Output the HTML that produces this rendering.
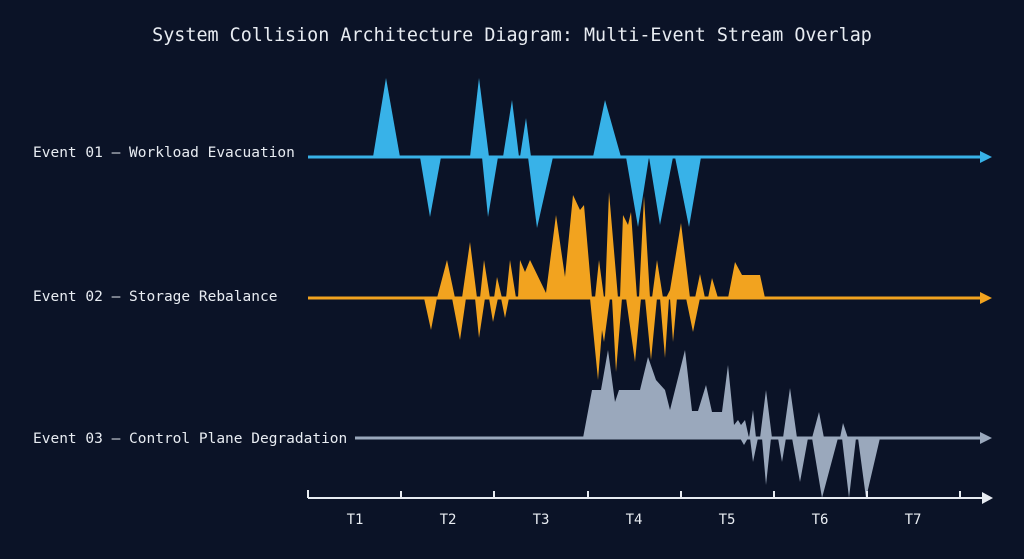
<!DOCTYPE html>
<html><head><style>
html,body{margin:0;padding:0;background:#0b1327;}
svg{display:block}
text{font-family:"DejaVu Sans Mono","Liberation Mono",monospace;fill:#e8ecf2}
</style></head><body>
<svg width="1024" height="559" viewBox="0 0 1024 559">
<rect width="1024" height="559" fill="#0b1327"/>
<text x="512" y="41" font-size="18.4" text-anchor="middle">System Collision Architecture Diagram: Multi-Event Stream Overlap</text>
<text x="33" y="157" font-size="14.5">Event 01 — Workload Evacuation</text>
<text x="33" y="301" font-size="14.5">Event 02 — Storage Rebalance</text>
<text x="33" y="443" font-size="14.5">Event 03 — Control Plane Degradation</text>

<g fill="#38b2e8">
<polygon points="373,157 386,78 400,157"/>
<polygon points="420,157 430,217 441,157"/>
<polygon points="470,157 479,78 489,157"/>
<polygon points="482,157 488,217 498,157"/>
<polygon points="503,157 512,100 519,157"/>
<polygon points="520,157 526,118 531,157"/>
<polygon points="528,157 537,228 553,157"/>
<polygon points="593,157 605,100 621,157"/>
<polygon points="626,157 638,227 649,157"/>
<polygon points="649,157 660,225 673,157"/>
<polygon points="675,157 689,227 701,157"/>
</g>
<line x1="308" y1="157" x2="982" y2="157" stroke="#38b2e8" stroke-width="3"/>
<polygon points="980,151 992,157 980,163" fill="#38b2e8"/>

<g fill="#f2a31f">
<polygon points="437,298 447,260 455,298 462,298 470,242 477,298 480,298 484,260 490,298 494,298 497,277 502,298 506,298 510,260 516,298 518,298 520,260 525,272 530,260 546,293 556,215 565,277 573,195 580,210 584,205 592,298 595,298 599,260 604,298 605,298 609,192 618,298 620,298 623,215 628,225 631,212 637,298 639,298 644,196 650,298 652,298 657,260 663,298 666,298 670,290 681,223 690,298 695,298 700,274 705,298 708,298 712,278 718,298 728,298 735,262 742,275 760,275 765,298"/>
<polygon points="424,298 431,330 437,298 452,298 460,340 466,298 475,298 479,338 485,298 489,298 493,322 498,298 501,298 505,318 509,298 590,298 598,380 602,330 604,342 610,298 612,298 616,372 622,298 626,298 635,362 641,298 645,298 651,360 657,298 660,298 665,358 669,298 670,298 673,342 677,298 686,298 693,332 700,298"/>
</g>
<line x1="308" y1="298" x2="982" y2="298" stroke="#f2a31f" stroke-width="3"/>
<polygon points="980,292 992,298 980,304" fill="#f2a31f"/>

<g fill="#9aa8bc">
<polygon points="583,438 592,390 601,390 608,350 615,402 619,390 640,390 648,357 656,380 665,390 670,410 675,390 685,350 692,411 698,411 706,385 712,412 722,412 728,365 734,425 738,420 741,425 745,420 749,438 753,410 756,438 760,438 766,390 772,438 783,438 790,388 797,438 812,438 819,412 824,438 840,438 843,423 848,438"/>
<polygon points="740,438 744,445 748,438 750,438 753,462 758,438 762,438 766,485 771,438 778,438 782,462 786,438 792,438 800,482 808,438 812,438 822,498 838,438 842,438 849,498 856,438 858,438 866,498 880,438"/>
</g>
<line x1="355" y1="438" x2="982" y2="438" stroke="#9aa8bc" stroke-width="3"/>
<polygon points="980,432 992,438 980,444" fill="#9aa8bc"/>

<g stroke="#e8ecf2" stroke-width="2">
<line x1="308" y1="498" x2="984" y2="498"/>
<line x1="308" y1="490" x2="308" y2="498"/>
<line x1="401" y1="491" x2="401" y2="498"/>
<line x1="494" y1="491" x2="494" y2="498"/>
<line x1="588" y1="491" x2="588" y2="498"/>
<line x1="681" y1="491" x2="681" y2="498"/>
<line x1="774" y1="491" x2="774" y2="498"/>
<line x1="867" y1="491" x2="867" y2="498"/>
<line x1="960" y1="491" x2="960" y2="498"/>
</g>
<polygon points="982,492 993,498 982,504" fill="#e8ecf2"/>
<g font-size="14" text-anchor="middle">
<text x="355" y="524">T1</text><text x="448" y="524">T2</text><text x="541" y="524">T3</text>
<text x="634" y="524">T4</text><text x="727" y="524">T5</text><text x="820" y="524">T6</text><text x="913" y="524">T7</text>
</g>
</svg>
</body></html>
